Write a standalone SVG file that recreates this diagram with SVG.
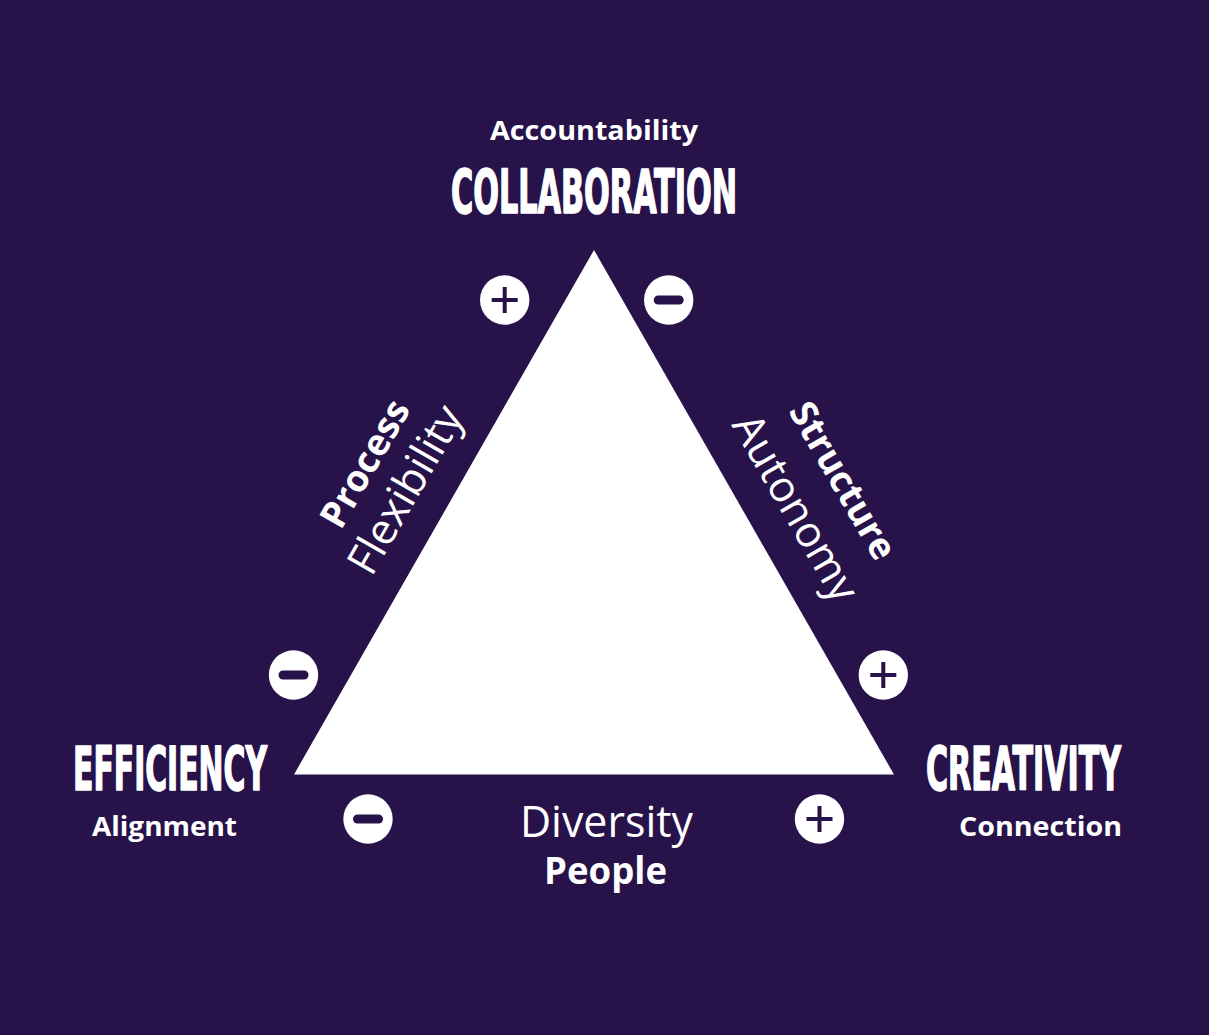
<svg xmlns="http://www.w3.org/2000/svg" width="1209" height="1035" viewBox="0 0 1209 1035">
<defs>
<style>
.bg{fill:#27124A}
.w{fill:#ffffff}
.head{font-family:"Liberation Sans Narrow","DejaVu Sans Condensed","Liberation Sans",sans-serif;font-weight:bold;font-size:60px;fill:#ffffff;stroke:#ffffff;stroke-width:1.6;stroke-linejoin:round}
.sub{font-family:"Open Sans","Noto Sans","DejaVu Sans",sans-serif;font-weight:700;font-size:26px;fill:#ffffff}
.bold{font-family:"Open Sans","Noto Sans","DejaVu Sans",sans-serif;font-weight:700;font-size:37px;fill:#ffffff}
.light{font-family:"Open Sans","Noto Sans","DejaVu Sans",sans-serif;font-weight:400;font-size:43px;fill:#ffffff}
.sign{fill:#27124A}
.plus{stroke:#27124A;stroke-width:4;fill:none}
</style>
<g id="plusIcon">
<circle r="24.7" class="w"/>
<path d="M-13 0H13M0 -13V13" class="plus"/>
</g>
<g id="minusIcon">
<circle r="24.7" class="w"/>
<rect x="-15" y="-4.6" width="30" height="9.2" rx="4.6" class="sign"/>
</g>
</defs>
<rect class="bg" x="0" y="0" width="1209" height="1035"/>

<g id="triangle">
<polygon class="w" points="594,250 894,774.5 294,774.5"/>
</g>

<g id="collaboration">
<text class="sub" x="594" y="140" text-anchor="middle" textLength="208" lengthAdjust="spacingAndGlyphs">Accountability</text>
<text class="head" x="594" y="213" text-anchor="middle" font-size="56" textLength="286" lengthAdjust="spacingAndGlyphs">COLLABORATION</text>
</g>

<g id="efficiency">
<text class="head" x="170" y="790" text-anchor="middle" textLength="194" lengthAdjust="spacingAndGlyphs">EFFICIENCY</text>
<text class="sub" x="164.5" y="836" text-anchor="middle" textLength="145" lengthAdjust="spacingAndGlyphs">Alignment</text>
</g>

<g id="creativity">
<text class="head" x="1023.5" y="790" text-anchor="middle" textLength="195" lengthAdjust="spacingAndGlyphs">CREATIVITY</text>
<text class="sub" x="1040.5" y="836" text-anchor="middle" textLength="163" lengthAdjust="spacingAndGlyphs">Connection</text>
</g>

<g id="left-side-label">
<text class="bold" transform="translate(376,470) rotate(-60)" text-anchor="middle">Process</text>
<text class="light" transform="translate(418,497) rotate(-60)" text-anchor="middle">Flexibility</text>
</g>

<g id="right-side-label">
<text class="bold" transform="translate(832,487) rotate(60)" text-anchor="middle">Structure</text>
<text class="light" transform="translate(783,515) rotate(60)" text-anchor="middle">Autonomy</text>
</g>

<g id="bottom-label">
<text class="light" x="606.5" y="837" text-anchor="middle" font-size="42" textLength="173" lengthAdjust="spacingAndGlyphs">Diversity</text>
<text class="bold" x="605.5" y="884" text-anchor="middle" font-size="34" textLength="123" lengthAdjust="spacingAndGlyphs">People</text>
</g>

<g id="icon-top-left"><use href="#plusIcon" x="504.7" y="300"/></g>
<g id="icon-top-right"><use href="#minusIcon" x="668.7" y="300"/></g>
<g id="icon-left"><use href="#minusIcon" x="293.5" y="675"/></g>
<g id="icon-right"><use href="#plusIcon" x="883.3" y="675"/></g>
<g id="icon-bottom-left"><use href="#minusIcon" x="368" y="819"/></g>
<g id="icon-bottom-right"><use href="#plusIcon" x="819.5" y="819"/></g>
</svg>
